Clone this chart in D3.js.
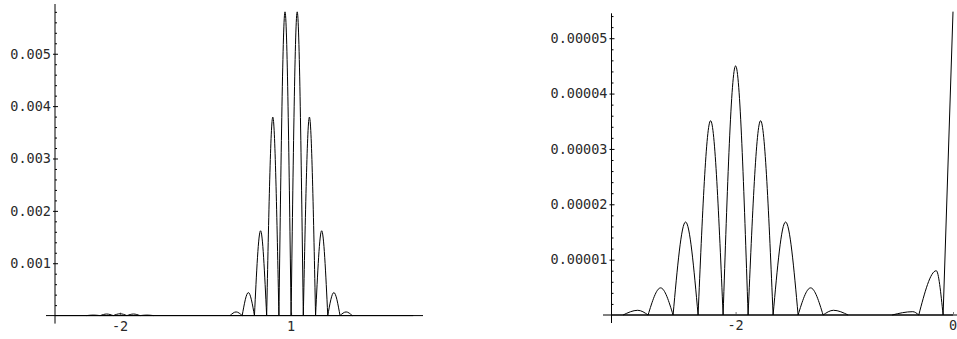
<!DOCTYPE html>
<html>
<head>
<meta charset="utf-8">
<script src="https://cdn.jsdelivr.net/npm/d3@7"></script>
<style>
  html, body { margin: 0; padding: 0; background: #fff; }
  svg { display: block; }
  .lbl { font-family: "DejaVu Sans Mono", monospace; font-size: 13.5px; fill: #2a2a2a; }
</style>
</head>
<body>
<svg id="chart" width="957" height="339"></svg>
<script>
// ---------------- DATA ----------------
// Left panel: x in [-pi, pi]
const leftXDomain = [-Math.PI, Math.PI];
const leftYMax = 0.00595;
const leftXTicks = [-2, 1];
const leftXTickLabels = ["-2", "1"];
const leftYTicks = [0.001, 0.002, 0.003, 0.004, 0.005];
const leftYTickLabels = ["0.001", "0.002", "0.003", "0.004", "0.005"];
const leftYMinorTicks = [0.0002,0.0004,0.0006,0.0008,0.0012,0.0014,0.0016,0.0018,0.0022,0.0024,0.0026,0.0028,
                         0.0032,0.0034,0.0036,0.0038,0.0042,0.0044,0.0046,0.0048,0.0052,0.0054,0.0056,0.0058];
// lobes: start zero, peak x, peak height, end zero
const leftLobeStart  = [-2.59, -2.35, -2.12, -1.88, -1.65, -0.072, 0.142, 0.357, 0.571, 0.786, 1.000, 1.214, 1.429, 1.643, 1.858];
const leftLobePeak   = [-2.47, -2.235, -2.00, -1.765, -1.53, 0.035, 0.250, 0.464, 0.679, 0.893, 1.107, 1.321, 1.536, 1.750, 1.965];
const leftLobeHeight = [0.00001, 0.00003, 0.000035, 0.00003, 0.00001, 0.00007, 0.00044, 0.00162, 0.00379, 0.0058, 0.0058, 0.00379, 0.00162, 0.00044, 0.00007];
const leftLobeEnd    = [-2.35, -2.12, -1.88, -1.65, -1.41, 0.142, 0.357, 0.571, 0.786, 1.000, 1.214, 1.429, 1.643, 1.858, 2.072];

// Right panel: x in [-pi, 0]
const rightXDomain = [-Math.PI, 0];
const rightYMax = 0.0000545;
const rightXTicks = [-2, 0];
const rightXTickLabels = ["-2", "0"];
const rightYTicks = [0.00001, 0.00002, 0.00003, 0.00004, 0.00005];
const rightYTickLabels = ["0.00001", "0.00002", "0.00003", "0.00004", "0.00005"];
const rightYMinorTicks = [0.000002,0.000004,0.000006,0.000008,0.000012,0.000014,0.000016,0.000018,
                          0.000022,0.000024,0.000026,0.000028,0.000032,0.000034,0.000036,0.000038,
                          0.000042,0.000044,0.000046,0.000048,0.000052,0.000054];
const rightLobeStart  = [-3.035, -2.805, -2.575, -2.345, -2.115, -1.885, -1.655, -1.425, -1.195, -0.56, -0.315];
const rightLobePeak   = [-2.90, -2.69, -2.46, -2.23, -2.00, -1.77, -1.54, -1.31, -1.10, -0.37, -0.154];
const rightLobeHeight = [0.00000085, 0.0000049, 0.0000168, 0.0000351, 0.0000450, 0.0000351, 0.0000168, 0.0000049, 0.00000085, 0.0000006, 0.0000080];
const rightLobeEnd    = [-2.805, -2.575, -2.345, -2.115, -1.885, -1.655, -1.425, -1.195, -0.965, -0.315, -0.091];
const rightRiseX = [-0.091, 0];
const rightRiseY = [0, 0.0000548];

// ---------------- DRAWING ----------------
const svg = d3.select("#chart");

function panel(cfg) {
  const g = svg.append("g");
  const x = d3.scaleLinear().domain(cfg.xDomain).range(cfg.xRange);
  const y = d3.scaleLinear().domain([0, cfg.yMax]).range(cfg.yRange);
  const x0 = x(cfg.xDomain[0]);
  const y0 = y(0);

  // axis lines
  g.append("line").attr("x1", cfg.xAxisExtent[0]).attr("x2", cfg.xAxisExtent[1])
    .attr("y1", y0).attr("y2", y0).attr("stroke", "#000").attr("stroke-width", 1);
  g.append("line").attr("x1", x0).attr("x2", x0)
    .attr("y1", y(cfg.yMax)).attr("y2", y0 + 8).attr("stroke", "#000").attr("stroke-width", 1);

  // y major ticks with labels (left side)
  const yl = g.append("g").attr("transform", `translate(${x0},0)`)
    .call(d3.axisLeft(y).tickValues(cfg.yTicks).tickSize(2).tickPadding(2)
      .tickFormat((d, i) => cfg.yTickLabels[i]));
  yl.select(".domain").remove();
  yl.selectAll(".tick line").attr("stroke", "#000");
  yl.selectAll(".tick text").attr("class", "lbl").attr("fill", null)
    .style("font-family", null).style("font-size", null);
  yl.attr("font-family", null).attr("font-size", null);
  // y major ticks (right side)
  const yr = g.append("g").attr("transform", `translate(${x0},0)`)
    .call(d3.axisRight(y).tickValues(cfg.yTicks).tickSize(3).tickFormat(""));
  yr.select(".domain").remove();
  yr.selectAll(".tick line").attr("stroke", "#000");
  // y minor ticks
  const ym = g.append("g").attr("transform", `translate(${x0},0)`)
    .call(d3.axisRight(y).tickValues(cfg.yMinor).tickSize(2).tickFormat(""));
  ym.select(".domain").remove();
  ym.selectAll(".tick line").attr("stroke", "#000");

  // x ticks with labels
  const xa = g.append("g").attr("transform", `translate(0,${y0})`)
    .call(d3.axisTop(x).tickValues(cfg.xTicks).tickSize(3).tickFormat(""));
  xa.select(".domain").remove();
  xa.selectAll(".tick line").attr("stroke", "#777");
  g.selectAll("text.xl").data(cfg.xTicks).enter().append("text")
    .attr("class", "lbl").attr("x", d => x(d)).attr("y", y0 + 15)
    .attr("text-anchor", "middle").text((d, i) => cfg.xTickLabels[i]);

  // curve: flat baseline + lobes
  const lobeLine = d3.line().x(d => x(d[0])).y(d => y(d[1])).curve(d3.curveMonotoneX);
  let dStr = "";
  cfg.lobeStart.forEach((s, i) => {
    dStr += lobeLine([[s, 0], [cfg.lobePeak[i], cfg.lobeHeight[i]], [cfg.lobeEnd[i], 0]]);
  });
  if (cfg.riseX) {
    dStr += d3.line().x(d => x(d[0])).y(d => y(d[1]))(cfg.riseX.map((v, i) => [v, cfg.riseY[i]]));
  }
  g.append("path").attr("d", d3.line().x(d => x(d)).y(() => y0)(cfg.xDomain))
    .attr("fill", "none").attr("stroke", "#000").attr("stroke-width", 1);
  g.append("path").attr("d", dStr).attr("fill", "none").attr("stroke", "#000")
    .attr("stroke-width", 1).attr("stroke-linejoin", "round");
}

panel({
  xDomain: leftXDomain, xRange: [55, 413.2], xAxisExtent: [46, 423],
  yMax: leftYMax, yRange: [315.6, 4],
  yTicks: leftYTicks, yTickLabels: leftYTickLabels, yMinor: leftYMinorTicks,
  xTicks: leftXTicks, xTickLabels: leftXTickLabels,
  lobeStart: leftLobeStart, lobePeak: leftLobePeak, lobeHeight: leftLobeHeight, lobeEnd: leftLobeEnd
});

panel({
  xDomain: rightXDomain, xRange: [611.5, 953], xAxisExtent: [603, 960],
  yMax: rightYMax, yRange: [315, 13.3],
  yTicks: rightYTicks, yTickLabels: rightYTickLabels, yMinor: rightYMinorTicks,
  xTicks: rightXTicks, xTickLabels: rightXTickLabels,
  lobeStart: rightLobeStart, lobePeak: rightLobePeak, lobeHeight: rightLobeHeight, lobeEnd: rightLobeEnd,
  riseX: rightRiseX, riseY: rightRiseY
});
</script>
</body>
</html>
